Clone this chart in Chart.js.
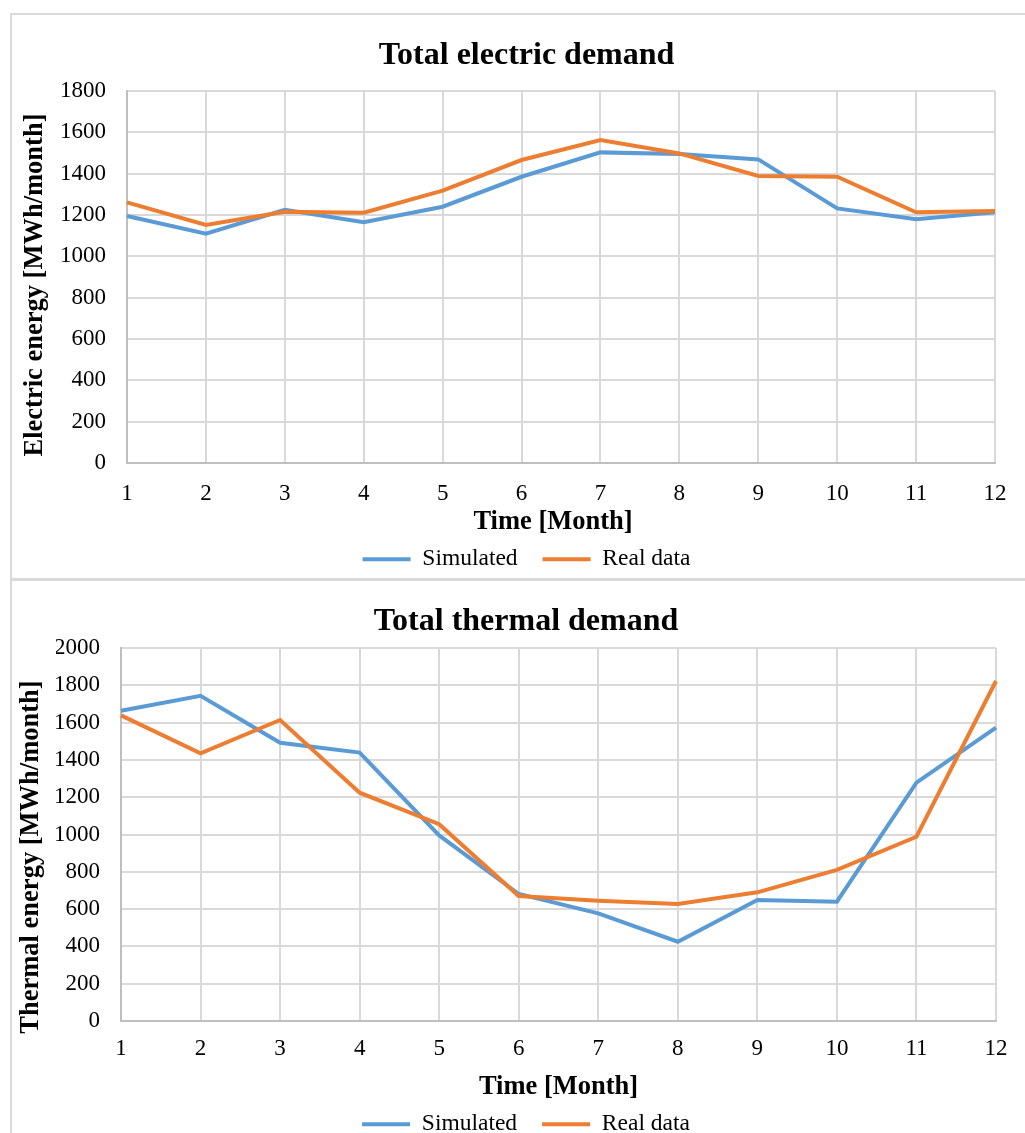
<!DOCTYPE html>
<html>
<head>
<meta charset="utf-8">
<script src="https://cdn.jsdelivr.net/npm/chart.js@4.4.1/dist/chart.umd.min.js"></script>
<style>
  html, body { margin: 0; padding: 0; background: #fff; overflow: hidden; width: 1025px; height: 1133px; }
  .box { position: absolute; border: 2px solid #d9d9d9; border-right: none; background: #fff; overflow: hidden; }
  .box canvas { position: absolute; left: 0; top: 0; }
</style>
</head>
<body>
<div class="box" style="left:10px; top:13px; width:1015px; height:563px;">
  <canvas id="electric"></canvas>
</div>
<div class="box" style="left:10px; top:579px; width:1015px; height:570px;">
  <canvas id="thermal"></canvas>
</div>
<script>
// Months on the horizontal axis
const months = ['1', '2', '3', '4', '5', '6', '7', '8', '9', '10', '11', '12'];

// Monthly electric demand [MWh/month]
const electricSimulated = [1195, 1110, 1225, 1165, 1240, 1385, 1503, 1495, 1469, 1232, 1179, 1213];
const electricReal      = [1261, 1152, 1216, 1211, 1318, 1466, 1563, 1498, 1389, 1385, 1213, 1219];

// Monthly thermal demand [MWh/month]
const thermalSimulated = [1664, 1744, 1492, 1439, 995, 681, 577, 425, 649, 640, 1278, 1573];
const thermalReal      = [1639, 1435, 1614, 1224, 1055, 670, 645, 627, 690, 810, 988, 1823];

const BLUE = '#5B9BD5';
const ORANGE = '#ED7D31';
const FONT = "'Liberation Serif', 'Times New Roman', serif";

Chart.defaults.font.family = FONT;
Chart.defaults.color = '#000';

// Axis titles: the horizontal one under the month labels, the rotated one beside the value ticks
const axisTitlePlugin = {
  id: 'axisTitles',
  afterDraw(chart, args, o) {
    const ctx = chart.ctx;
    for (const t of o.titles) {
      ctx.save();
      ctx.translate(t.x, t.y);
      if (t.rotate) ctx.rotate(-Math.PI / 2);
      ctx.font = `bold ${o.size}px ${FONT}`;
      ctx.fillStyle = '#000';
      ctx.textAlign = 'center';
      ctx.textBaseline = 'middle';
      ctx.fillText(t.text, 0, 0);
      ctx.restore();
    }
  }
};

function makeChart(id, opts) {
  const canvas = document.getElementById(id);
  canvas.width = 1013;
  canvas.height = opts.height;
  canvas.style.width = '1013px';
  canvas.style.height = opts.height + 'px';
  return new Chart(canvas, {
    type: 'line',
    plugins: [axisTitlePlugin],
    data: {
      labels: months,
      datasets: [
        { label: 'Simulated', data: opts.simulated, borderColor: BLUE, backgroundColor: BLUE,
          borderWidth: 4, pointRadius: 0, tension: 0, order: 2 },
        { label: 'Real data', data: opts.real, borderColor: ORANGE, backgroundColor: ORANGE,
          borderWidth: 4, pointRadius: 0, tension: 0, order: 1 }
      ]
    },
    options: {
      responsive: false,
      animation: false,
      events: [],
      layout: { padding: { left: opts.padLeft, right: opts.padRight, top: 0, bottom: 0 } },
      plugins: {
        title: {
          display: true,
          text: opts.title,
          font: { size: 32, weight: 'bold', family: FONT },
          color: '#000',
          padding: { top: opts.titleTop, bottom: opts.titleBottom }
        },
        legend: {
          position: 'bottom',
          labels: {
            font: { size: 23.5, family: FONT },
            color: '#000',
            boxWidth: 48,
            boxHeight: 4,
            padding: 25,
            sort: (a, b) => a.datasetIndex - b.datasetIndex,
            generateLabels: (chart) => {
              const items = Chart.defaults.plugins.legend.labels.generateLabels(chart);
              items.forEach(it => { it.lineWidth = 0; });
              return items;
            }
          }
        },
        tooltip: { enabled: false },
        axisTitles: {
          size: 26.5,
          titles: [
            { text: 'Time [Month]', x: opts.xTitleX, y: opts.xTitleY, rotate: false },
            { text: opts.yTitle, x: opts.yTitleX, y: opts.yTitleY, rotate: true }
          ]
        }
      },
      scales: {
        x: {
          type: 'category',
          offset: false,
          grid: { color: '#d9d9d9', lineWidth: 2, drawTicks: false },
          border: { display: true, color: '#bfbfbf', width: 2 },
          ticks: { font: { size: 23, family: FONT }, color: '#000', padding: opts.xTickPad, maxRotation: 0, autoSkip: false },
          afterFit: (scale) => { scale.height = opts.xHeight; }
        },
        y: {
          min: 0,
          max: opts.yMax,
          grid: { color: '#d9d9d9', lineWidth: 2, drawTicks: false },
          border: { display: true, color: '#bfbfbf', width: 2 },
          ticks: {
            stepSize: 200,
            font: { size: 23, family: FONT },
            color: '#000',
            padding: opts.yTickPad,
            callback: (v) => String(v)
          },
          afterFit: (scale) => { scale.width = opts.yWidth; }
        }
      }
    }
  });
}

makeChart('electric', {
  title: 'Total electric demand',
  yTitle: 'Electric energy [MWh/month]',
  simulated: electricSimulated,
  real: electricReal,
  yMax: 1800,
  height: 566,
  padLeft: 46,
  padRight: 30,
  titleTop: 21.8,
  titleBottom: 15.8,
  yWidth: 69,
  yTickPad: 21,
  yTitleX: 23,
  yTitleY: 270,
  xTitleX: 541,
  xTitleY: 507.5,
  xHeight: 59.5,
  xTickPad: 16.75
});

makeChart('thermal', {
  title: 'Total thermal demand',
  yTitle: 'Thermal energy [MWh/month]',
  simulated: thermalSimulated,
  real: thermalReal,
  yMax: 2000,
  height: 565,
  padLeft: 44,
  padRight: 29,
  titleTop: 21.8,
  titleBottom: 6.8,
  yWidth: 65,
  yTickPad: 21,
  yTitleX: 19.5,
  yTitleY: 276,
  xTitleX: 546.5,
  xTitleY: 506.6,
  xHeight: 66.5,
  xTickPad: 14.25
});
</script>
</body>
</html>
